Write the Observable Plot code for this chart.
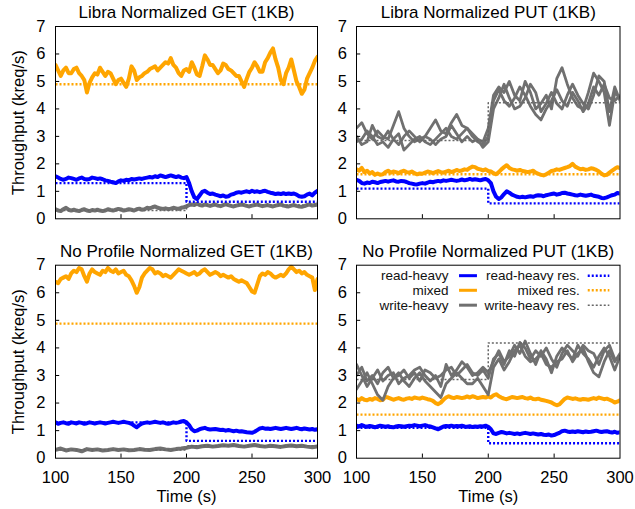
<!DOCTYPE html>
<html>
<head>
<meta charset="utf-8">
<script src="https://cdn.jsdelivr.net/npm/d3@7"></script>
<script src="https://cdn.jsdelivr.net/npm/@observablehq/plot@0.6"></script>
<style>
  body { margin: 0; background: #fff; }
  #chart { position: relative; width: 635px; height: 509px; font-family: "Liberation Sans", Arial, Helvetica, sans-serif; }
  #chart svg { position: absolute; overflow: visible; }
</style>
</head>
<body>
<div id="chart"></div>
<script>
// Experiment window (seconds) and the moment the reservations change
const START = 100, END = 300, CHANGE = 200;
const xTicks = [100, 150, 200, 250, 300];
const yTicks = [0, 1, 2, 3, 4, 5, 6, 7];

const titles = [
  "Libra Normalized GET (1KB)",
  "Libra Normalized PUT (1KB)",
  "No Profile Normalized GET (1KB)",
  "No Profile Normalized PUT (1KB)"
];
const legendLabels = ["read-heavy", "mixed", "write-heavy"];
const legendResLabels = ["read-heavy res.", "mixed res.", "write-heavy res."];

// ---- Libra, GET (kreq/s, sampled every 2 s) ----
const libraGetRead = [1.55,1.5,1.45,1.42,1.45,1.5,1.48,1.45,1.42,1.47,1.5,1.45,1.43,1.45,1.5,1.48,1.45,1.47,1.44,1.4,1.38,1.35,1.33,1.3,1.36,1.4,1.38,1.42,1.4,1.45,1.43,1.45,1.47,1.45,1.48,1.5,1.52,1.5,1.55,1.52,1.58,1.55,1.52,1.55,1.58,1.55,1.52,1.55,1.5,1.48,1.52,1.3,1.0,0.78,0.72,0.85,0.98,1.02,0.95,0.9,0.92,0.88,0.85,0.82,0.85,0.8,0.82,0.88,0.9,0.95,0.97,0.95,0.98,1.0,0.97,1.02,0.98,1.0,0.97,1.0,1.02,0.98,0.95,0.93,0.9,0.92,0.9,0.93,0.9,0.92,0.9,0.92,0.88,0.82,0.8,0.82,0.88,0.92,0.85,0.95,1.02];
const libraGetMixed = [5.6,5.4,5.2,5.4,5.5,5.3,5.3,5.45,5.5,5.3,5.2,5.05,4.6,4.95,5.15,5.3,5.25,5.5,5.35,5.2,5.35,5.3,5.1,4.9,5.05,5.1,4.95,4.8,5.1,5.55,5.4,5.05,5.15,5.2,5.3,5.35,5.45,5.5,5.55,5.4,5.5,5.6,5.7,5.65,5.85,5.6,5.5,5.3,5.2,5.4,5.45,5.35,5.7,5.5,5.25,5.2,5.55,5.95,5.8,5.6,5.6,5.45,5.3,5.4,5.65,5.6,5.45,5.4,5.3,5.2,5.2,5.0,4.8,5.1,5.35,5.5,5.7,5.55,5.35,5.35,5.7,5.85,6.05,6.2,5.8,5.5,5.05,4.9,5.3,5.5,5.8,5.4,5.0,4.8,4.55,4.7,5.1,5.3,5.5,5.75,5.9];
const libraGetWrite = [0.35,0.3,0.28,0.35,0.4,0.33,0.3,0.33,0.3,0.28,0.32,0.35,0.3,0.28,0.32,0.3,0.33,0.3,0.28,0.3,0.35,0.32,0.3,0.33,0.36,0.34,0.3,0.32,0.35,0.33,0.3,0.35,0.37,0.33,0.35,0.4,0.38,0.42,0.45,0.4,0.38,0.36,0.38,0.35,0.37,0.4,0.38,0.36,0.4,0.42,0.45,0.5,0.52,0.5,0.55,0.5,0.48,0.52,0.5,0.47,0.5,0.52,0.48,0.46,0.5,0.53,0.5,0.47,0.45,0.48,0.5,0.52,0.5,0.47,0.45,0.48,0.5,0.52,0.49,0.46,0.48,0.5,0.47,0.45,0.48,0.5,0.52,0.48,0.46,0.45,0.48,0.5,0.47,0.45,0.44,0.46,0.5,0.52,0.48,0.5,0.52];
// reservations: [before CHANGE, after CHANGE]
const libraGetReadRes = [1.3, 0.62];
const libraGetMixedRes = [4.9, 4.9];
const libraGetWriteRes = [0.3, 0.5];

// ---- Libra, PUT ----
const libraPutRead = [1.42,1.38,1.3,1.28,1.32,1.3,1.35,1.33,1.3,1.34,1.36,1.38,1.35,1.38,1.4,1.36,1.35,1.38,1.37,1.34,1.3,1.28,1.26,1.25,1.28,1.3,1.28,1.32,1.35,1.33,1.36,1.38,1.36,1.4,1.38,1.4,1.42,1.4,1.38,1.4,1.43,1.4,1.42,1.45,1.42,1.44,1.42,1.4,1.43,1.45,1.4,1.3,1.0,0.8,0.72,0.78,0.9,1.0,0.95,0.88,0.84,0.8,0.78,0.8,0.78,0.8,0.82,0.8,0.84,0.86,0.85,0.82,0.86,0.88,0.9,0.92,0.88,0.9,0.94,0.95,0.92,0.9,0.88,0.86,0.85,0.88,0.86,0.84,0.86,0.88,0.84,0.82,0.8,0.76,0.75,0.78,0.82,0.86,0.88,0.94,0.92];
const libraPutMixed = [1.8,1.75,1.85,1.7,1.75,1.65,1.7,1.6,1.65,1.6,1.62,1.7,1.75,1.68,1.72,1.7,1.66,1.72,1.75,1.7,1.68,1.72,1.66,1.62,1.65,1.64,1.68,1.72,1.7,1.66,1.7,1.74,1.7,1.68,1.72,1.75,1.7,1.73,1.78,1.74,1.76,1.8,1.78,1.85,1.9,1.88,1.82,1.8,1.76,1.8,1.74,1.72,1.66,1.62,1.7,1.8,1.88,1.95,1.85,1.8,1.78,1.75,1.78,1.74,1.72,1.7,1.72,1.75,1.68,1.64,1.6,1.58,1.62,1.68,1.74,1.76,1.8,1.78,1.82,1.85,1.88,1.92,2.0,1.9,1.85,1.8,1.82,1.78,1.8,1.84,1.82,1.78,1.72,1.64,1.58,1.6,1.68,1.75,1.82,1.88,1.85];
// write-heavy: three runs, sampled every 4 s
const libraPutWriteA = [3.3,3.5,3.1,2.9,3.2,3.0,2.9,3.4,3.9,3.3,3.0,2.8,2.9,3.0,3.3,3.6,3.2,3.1,3.5,3.8,3.4,3.3,3.1,2.9,2.8,3.3,4.5,4.8,4.6,5.0,4.5,4.3,5.0,4.6,4.0,4.2,4.5,4.0,5.1,5.5,4.9,4.4,4.1,4.0,4.6,5.3,5.0,4.6,3.4,4.6,4.4];
const libraPutWriteB = [2.8,2.9,3.2,3.0,2.7,2.8,2.6,2.9,3.1,2.5,2.7,2.9,3.0,2.8,2.7,2.9,3.1,3.3,3.0,2.9,3.1,3.3,3.0,2.8,2.7,3.0,4.3,4.7,4.3,4.1,4.4,4.8,4.5,4.1,3.8,3.6,4.0,4.3,4.7,4.3,4.1,4.6,4.3,3.9,4.2,4.8,4.5,4.9,4.4,4.3,4.5];
const libraPutWriteC = [3.0,2.7,2.8,3.4,3.0,2.9,3.2,2.9,2.7,3.0,3.2,3.0,2.8,3.0,2.9,2.7,2.9,3.0,3.4,3.1,2.8,3.0,2.8,2.9,2.6,2.8,4.0,4.4,4.9,4.4,4.0,4.1,4.4,4.9,4.6,3.9,4.2,4.6,4.2,4.0,4.5,4.9,4.5,4.2,4.0,4.5,5.2,5.0,3.9,4.8,4.3];
const libraPutReadRes = [1.1, 0.56];
const libraPutMixedRes = [1.62, 1.62];
const libraPutWriteRes = [2.85, 4.22];

// ---- No Profile, GET ----
const noProfGetRead = [1.3,1.25,1.28,1.3,1.27,1.25,1.3,1.28,1.26,1.3,1.28,1.25,1.27,1.3,1.28,1.26,1.28,1.3,1.28,1.26,1.28,1.3,1.32,1.3,1.28,1.3,1.32,1.3,1.28,1.25,1.18,1.12,1.2,1.26,1.28,1.3,1.28,1.3,1.32,1.3,1.28,1.3,1.27,1.25,1.27,1.3,1.28,1.3,1.33,1.35,1.3,1.2,1.05,0.98,1.0,1.05,1.08,1.1,1.06,1.04,1.05,1.06,1.04,1.02,1.03,1.0,1.02,1.0,0.98,1.0,0.97,0.98,0.96,0.94,0.93,0.92,0.96,1.02,1.08,1.1,1.07,1.08,1.06,1.08,1.1,1.08,1.06,1.08,1.1,1.08,1.06,1.08,1.1,1.07,1.05,1.08,1.06,1.04,1.06,1.03,1.05];
const noProfGetMixed = [6.4,6.35,6.5,6.55,6.6,6.5,6.7,6.8,6.75,6.9,6.85,6.6,6.4,6.7,6.85,6.75,6.7,6.65,6.8,6.75,6.9,6.8,6.75,6.85,6.7,6.75,6.8,6.65,6.6,6.45,6.25,6.0,6.2,6.55,6.7,6.8,6.9,6.85,6.7,6.75,6.7,6.6,6.65,6.6,6.55,6.65,6.75,6.85,6.8,6.75,6.7,6.65,6.7,6.75,6.65,6.7,6.8,6.85,6.75,6.65,6.7,6.75,6.7,6.6,6.65,6.6,6.55,6.6,6.5,6.45,6.4,6.45,6.4,6.35,6.2,6.05,6.0,6.3,6.6,6.7,6.65,6.75,6.7,6.6,6.55,6.6,6.65,6.6,6.7,6.85,6.95,6.85,6.75,6.8,6.7,6.75,6.65,6.6,6.55,6.1,6.5];
// sampled every 4 s
const noProfGetWrite = [0.3,0.35,0.28,0.32,0.3,0.25,0.33,0.3,0.32,0.28,0.3,0.33,0.3,0.32,0.29,0.3,0.33,0.31,0.3,0.33,0.35,0.32,0.3,0.33,0.35,0.38,0.42,0.4,0.43,0.45,0.42,0.44,0.47,0.45,0.48,0.44,0.42,0.45,0.48,0.44,0.42,0.45,0.43,0.41,0.44,0.46,0.43,0.45,0.42,0.4,0.43];
const noProfGetReadRes = [1.3, 0.63];
const noProfGetMixedRes = [4.88, 4.88];
const noProfGetWriteRes = [0.3, 0.45];

// ---- No Profile, PUT ----
const noProfPutRead = [1.18,1.15,1.2,1.16,1.14,1.17,1.15,1.12,1.15,1.18,1.16,1.14,1.16,1.13,1.12,1.15,1.17,1.16,1.14,1.16,1.18,1.17,1.2,1.18,1.16,1.18,1.2,1.17,1.15,1.12,1.08,1.05,1.1,1.15,1.17,1.16,1.18,1.15,1.17,1.16,1.18,1.15,1.14,1.16,1.13,1.15,1.14,1.16,1.15,1.18,1.14,1.05,0.9,0.88,0.92,0.95,0.93,0.9,0.92,0.9,0.88,0.9,0.87,0.9,0.92,0.9,0.88,0.9,0.88,0.86,0.88,0.85,0.84,0.86,0.82,0.84,0.88,0.92,0.98,1.0,0.97,0.95,0.97,0.95,0.98,0.96,0.94,0.97,0.95,0.96,0.98,1.0,0.97,0.95,0.97,0.98,0.95,0.93,0.96,0.92,0.94];
const noProfPutMixed = [2.15,2.1,2.18,2.12,2.1,2.15,2.12,2.18,2.15,2.1,2.12,2.22,2.2,2.16,2.12,2.15,2.18,2.14,2.12,2.16,2.18,2.15,2.2,2.18,2.16,2.2,2.17,2.14,2.12,2.08,2.0,1.96,2.02,2.12,2.2,2.25,2.2,2.18,2.22,2.2,2.18,2.2,2.24,2.2,2.25,2.22,2.18,2.2,2.22,2.2,2.24,2.2,2.28,2.32,2.25,2.2,2.16,2.14,2.18,2.22,2.2,2.18,2.2,2.22,2.18,2.16,2.2,2.15,2.14,2.16,2.12,2.1,2.08,2.05,2.02,1.96,1.92,1.95,2.05,2.15,2.2,2.18,2.15,2.17,2.14,2.12,2.15,2.14,2.12,2.15,2.18,2.15,2.2,2.17,2.14,2.16,2.12,2.08,2.02,2.05,2.1];
const noProfPutWriteA = [3.4,3.0,2.6,2.9,3.2,2.8,3.0,3.1,2.7,2.9,3.0,3.2,3.3,3.0,2.8,3.0,2.6,3.4,3.0,3.2,3.5,3.3,3.0,3.1,3.3,3.1,3.5,3.9,3.5,3.7,4.1,3.8,4.25,3.8,3.4,3.9,3.6,3.1,3.7,4.0,3.8,3.6,4.1,3.8,3.6,3.3,3.7,4.0,3.7,3.2,3.7];
const noProfPutWriteB = [2.5,2.8,3.1,2.7,2.3,2.1,2.6,2.9,3.1,2.8,2.6,2.9,3.1,2.8,2.6,2.4,2.2,2.7,2.9,3.1,2.9,2.7,2.7,2.9,2.6,2.3,3.3,3.6,3.2,3.5,3.9,4.1,3.7,3.5,3.6,3.8,3.4,3.3,3.5,3.6,3.9,3.5,3.8,4.0,3.5,3.1,2.95,3.5,3.9,3.5,3.8];
const noProfPutWriteC = [3.0,3.3,2.8,3.0,2.7,3.1,3.3,2.9,3.0,3.2,2.9,3.1,2.8,3.2,3.1,2.9,3.0,3.2,3.3,3.0,3.2,3.4,3.1,3.0,3.2,2.9,3.6,3.8,3.4,3.9,3.7,4.2,4.0,3.6,3.9,3.7,4.0,3.6,3.3,3.8,4.1,3.9,3.7,4.1,3.9,3.8,3.4,3.9,4.1,3.6,3.6];
const noProfPutReadRes = [1.1, 0.54];
const noProfPutMixedRes = [1.58, 1.58];
const noProfPutWriteRes = [2.85, 4.18];

const COLORS = { read: "#0000ff", mixed: "#ffa500", write: "#707070" };
const FONT = '"Liberation Sans", Arial, Helvetica, sans-serif';

// dotted style of the reservation lines
function resStyle(k) {
  return k === "write"
    ? { stroke: "#666", strokeWidth: 1.5, strokeDasharray: "2,2", strokeLinecap: "butt" }
    : { stroke: COLORS[k], strokeWidth: 2.4, strokeDasharray: "2,2", strokeLinecap: "butt" };
}

// one row per sample; samples are evenly spaced over the window
function sampleRows(values, run) {
  const step = (END - START) / (values.length - 1);
  return values.map((v, i) => ({ t: START + i * step, v, run }));
}
// reservation level before and after the change, drawn as a step
function resRows([before, after]) {
  return [{ t: START, v: before }, { t: CHANGE, v: after }, { t: END, v: after }];
}

const panels = [
  { title: titles[0], left: 0, top: 0, width: 320, height: 230, ml: 55, mr: 3, mt: 26, mb: 11.7,
    xLabels: false, yLabel: true,
    runs: { read: [libraGetRead], mixed: [libraGetMixed], write: [libraGetWrite] },
    res: { read: libraGetReadRes, mixed: libraGetMixedRes, write: libraGetWriteRes } },
  { title: titles[1], left: 320, top: 0, width: 315, height: 230, ml: 36, mr: 15.5, mt: 26, mb: 11.7,
    xLabels: false, yLabel: false,
    runs: { read: [libraPutRead], mixed: [libraPutMixed], write: [libraPutWriteA, libraPutWriteB, libraPutWriteC] },
    res: { read: libraPutReadRes, mixed: libraPutMixedRes, write: libraPutWriteRes } },
  { title: titles[2], left: 0, top: 230, width: 320, height: 279, ml: 55, mr: 3, mt: 34.7, mb: 51.3,
    xLabels: true, yLabel: true,
    runs: { read: [noProfGetRead], mixed: [noProfGetMixed], write: [noProfGetWrite] },
    res: { read: noProfGetReadRes, mixed: noProfGetMixedRes, write: noProfGetWriteRes } },
  { title: titles[3], left: 320, top: 230, width: 315, height: 279, ml: 36, mr: 15.5, mt: 34.7, mb: 51.3,
    xLabels: true, yLabel: false, legend: true,
    runs: { read: [noProfPutRead], mixed: [noProfPutMixed], write: [noProfPutWriteA, noProfPutWriteB, noProfPutWriteC] },
    res: { read: noProfPutReadRes, mixed: noProfPutMixedRes, write: noProfPutWriteRes } }
];

const kinds = ["read", "mixed", "write"];
const chart = document.getElementById("chart");

for (const p of panels) {
  const marks = [];

  // measured throughput, one line per run
  for (const k of kinds) {
    const rows = p.runs[k].flatMap((vals, r) => sampleRows(vals, r));
    marks.push(Plot.line(rows, {
      x: "t", y: "v", z: "run", stroke: COLORS[k],
      strokeWidth: k === "write" && p.runs[k].length > 1 ? 2.8 : 4,
      strokeLinejoin: "round", clip: true
    }));
  }
  // reservations (dotted)
  for (const k of kinds) {
    marks.push(Plot.line(resRows(p.res[k]), { x: "t", y: "v", curve: "step-after", clip: true, ...resStyle(k) }));
  }

  // inward ticks
  marks.push(Plot.ruleY(yTicks.slice(1, -1), { y: d => d, x1: START, x2: START + 3.2, stroke: "#000", strokeWidth: 1 }));
  marks.push(Plot.ruleX(xTicks.slice(1, -1), { x: d => d, y1: 0, y2: 0.15, stroke: "#000", strokeWidth: 1 }));
  marks.push(Plot.frame({ stroke: "#000", strokeWidth: 1 }));

  marks.push(Plot.axisY({ ticks: yTicks, tickSize: 0, tickPadding: p.yLabel ? 10 : 9.5, label: null,
    fontSize: 16.5, tickFormat: d => String(d) }));
  if (p.xLabels) {
    marks.push(Plot.axisX({ ticks: xTicks, tickSize: 0, tickPadding: 13, label: null,
      fontSize: 16.5, tickFormat: d => String(d) }));
    marks.push(Plot.text(["Time (s)"], { text: d => d, frameAnchor: "bottom", lineAnchor: "middle",
      textAnchor: "middle", dy: 39, fontSize: 16.5 }));
  }
  if (p.yLabel) {
    marks.push(Plot.text(["Throughput (kreq/s)"], { text: d => d, frameAnchor: "left", textAnchor: "middle",
      lineAnchor: "middle", rotate: -90, dx: -37, fontSize: 16.5 }));
  }
  marks.push(Plot.text([p.title], { text: d => d, frameAnchor: "top", textAnchor: "middle", lineAnchor: "bottom",
    dy: -8.7, fontSize: 17 }));

  if (p.legend) {
    const rowsY = [6.62, 6.09, 5.55];
    const items = kinds.map((k, i) => ({ k, y: rowsY[i], label: legendLabels[i], resLabel: legendResLabels[i] }));
    marks.push(Plot.text(items, { x: 169.8, y: "y", text: "label", textAnchor: "end", fontSize: 13.5, fill: "#111" }));
    marks.push(Plot.text(items, { x: 269.5, y: "y", text: "resLabel", textAnchor: "end", fontSize: 13.5, fill: "#111" }));
    for (const it of items) {
      marks.push(Plot.ruleY([it.y], { x1: 178.2, x2: 191.8, stroke: COLORS[it.k], strokeWidth: 3 }));
      marks.push(Plot.ruleY([it.y], { x1: 275.9, x2: 292.3, ...resStyle(it.k) }));
    }
  }

  const svg = Plot.plot({
    width: p.width, height: p.height,
    marginLeft: p.ml, marginRight: p.mr, marginTop: p.mt, marginBottom: p.mb,
    x: { domain: [START, END], axis: null },
    y: { domain: [0, 7], axis: null },
    style: { fontFamily: FONT, fontSize: "16.5px", background: "transparent", color: "#000", overflow: "visible" },
    marks
  });
  svg.style.left = p.left + "px";
  svg.style.top = p.top + "px";
  chart.appendChild(svg);
}
</script>
</body>
</html>
